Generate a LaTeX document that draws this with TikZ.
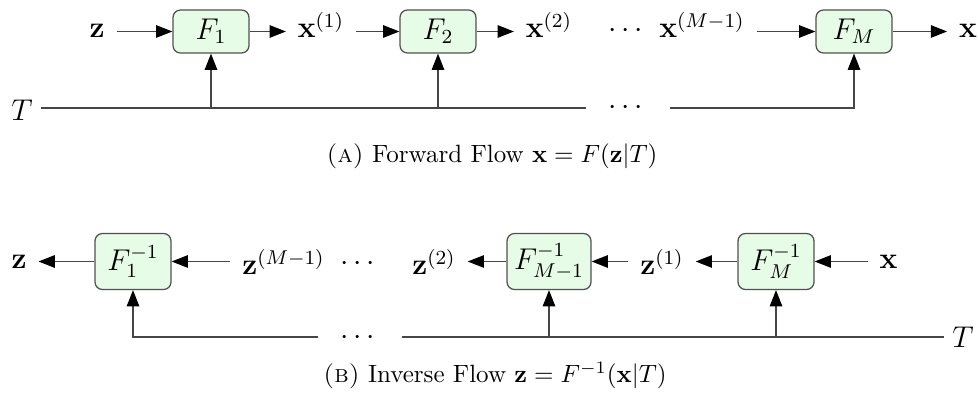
\documentclass[tikz,border=0pt]{standalone}
\usepackage{amsmath}
\usetikzlibrary{arrows.meta}
\definecolor{boxfill}{RGB}{230,252,230}
\definecolor{boxline}{RGB}{80,80,80}
\definecolor{wirecol}{RGB}{70,70,70}
\begin{document}
\begin{tikzpicture}[x=0.4pt,y=-0.4pt,
  fbox/.style={draw=boxline, fill=boxfill, rounded corners=3pt, minimum width=30.4pt,
    minimum height=17.2pt, inner xsep=2.8pt, inner ysep=2pt, line width=0.5pt, font=\large},
  fboxinv/.style={fbox, minimum height=22.4pt},
  lbl/.style={inner sep=4.6pt, font=\large},
  tlbl/.style={inner sep=3pt, font=\large},
  dotsnode/.style={inner xsep=8.6pt, inner ysep=0pt, font=\large},
  wire/.style={draw=wirecol, line width=0.45pt},
  arr/.style={wire, -{Triangle[length=6.5pt,width=5pt,color=black]}},
]
\useasboundingbox (0,0) rectangle (978,398);

% ---------- (a) forward flow ----------
\node[fbox] (F1) at (211,31.5) {$F_1$};
\node[fbox] (F2) at (438,31.5) {$F_2$};
\node[fbox] (FM) at (854,31.5) {$F_M$};
\node[lbl, anchor=base] (z)   at (97,38)  {$\mathbf{z}$};
\node[lbl, anchor=base] (x1)  at (321,38) {$\mathbf{x}^{(1)}$};
\node[lbl, anchor=base] (x2)  at (549,38) {$\mathbf{x}^{(2)}$};
\node[lbl, anchor=base] (dA)  at (628,38) {$\cdots$};
\node[lbl, anchor=base] (xM1) at (702,38) {$\mathbf{x}^{(M-1)}$};
\node[lbl, anchor=base] (x)   at (968,38) {$\mathbf{x}$};

\draw[arr] (z.east |- F1.west) -- (F1.west);
\draw[arr] (F1.east) -- (x1.west |- F1.east);
\draw[arr] (x1.east |- F2.west) -- (F2.west);
\draw[arr] (F2.east) -- (x2.west |- F2.east);
\draw[arr] (xM1.east |- FM.west) -- (FM.west);
\draw[arr] (FM.east) -- (x.west |- FM.east);

\node[tlbl] (TA) at (22,110) {$T$};
\coordinate (tlineA) at (0,108);
\node[dotsnode, anchor=base] (dTA) at (628,115) {$\cdots$};
\draw[wire] (TA.east |- tlineA) -- (dTA.west |- tlineA);
\draw[arr] (dTA.east |- tlineA) -- (FM |- tlineA) -- (FM.south);
\draw[arr] (F1 |- tlineA) -- (F1.south);
\draw[arr] (F2 |- tlineA) -- (F2.south);

\node[anchor=base] (capA) at (492,163) {\textsc{(a)} Forward Flow $\mathbf{x} = F(\mathbf{z}|T)$};

% ---------- (b) inverse flow ----------
\node[fboxinv] (G1)  at (133,261.5) {$F_1^{-1}$};
\node[fboxinv] (GM1) at (549,261.5) {$F_{M-1}^{-1}$};
\node[fboxinv] (GM)  at (776,261.5) {$F_M^{-1}$};
\node[lbl] (zb)  at (19,262)    {$\mathbf{z}$};
\node[lbl] (zM1) at (283.5,262) {$\mathbf{z}^{(M-1)}$};
\node[lbl] (dB)  at (360,264)   {$\cdots$};
\node[lbl] (z2)  at (434,262)   {$\mathbf{z}^{(2)}$};
\node[lbl] (z1)  at (662,262)   {$\mathbf{z}^{(1)}$};
\node[lbl] (xb)  at (888.5,262) {$\mathbf{x}$};

\draw[arr] (G1.west) -- (zb.east |- G1.west);
\draw[arr] (zM1.west |- G1.east) -- (G1.east);
\draw[arr] (GM1.west) -- (z2.east |- GM1.west);
\draw[arr] (z1.west |- GM1.east) -- (GM1.east);
\draw[arr] (GM.west) -- (z1.east |- GM.west);
\draw[arr] (xb.west |- GM.east) -- (GM.east);

\node[tlbl] (TB) at (963,337) {$T$};
\coordinate (tlineB) at (0,337);
\node[dotsnode, anchor=base] (dTB) at (360,344) {$\cdots$};
\draw[arr] (dTB.west |- tlineB) -- (G1 |- tlineB) -- (G1.south);
\draw[wire] (dTB.east |- tlineB) -- (TB.west |- tlineB);
\draw[arr] (GM1 |- tlineB) -- (GM1.south);
\draw[arr] (GM |- tlineB) -- (GM.south);

\node[anchor=base] (capB) at (495,383) {\textsc{(b)} Inverse Flow $\mathbf{z} = F^{-1}(\mathbf{x}|T)$};
\end{tikzpicture}
\end{document}
